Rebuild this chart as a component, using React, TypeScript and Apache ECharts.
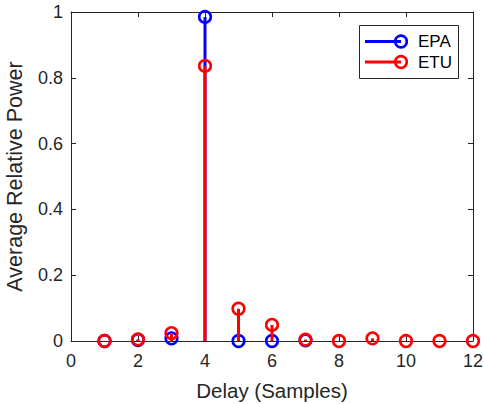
import React, { useEffect, useRef } from "react";
import * as echarts from "echarts";

const delays = [1, 2, 3, 4, 5, 6, 7, 8, 9, 10, 11, 12];
const epaDelays = [1, 2, 3, 4, 5, 6, 7];
const epaPower = [0.0, 0.003, 0.008, 0.985, 0.0, 0.0, 0.002];
const etuPower = [0.0, 0.005, 0.024, 0.836, 0.098, 0.049, 0.004, 0.0, 0.008, 0.0, 0.0, 0.0];
const xTicks = [0, 2, 4, 6, 8, 10, 12];
const yTicks = [0, 0.2, 0.4, 0.6, 0.8, 1];

const BLUE = "#0000ff";
const RED = "#ff0000";
const AX = "#262626";
const FONT = "'Liberation Sans', Arial, Helvetica, sans-serif";

function stemSeries(name: string, xs: number[], ys: number[], color: string) {
  return {
    type: "custom",
    name,
    clip: false,
    data: xs.map((x, i) => [x, ys[i]]),
    renderItem: (params: any, api: any) => {
      const x = api.value(0);
      const y = api.value(1);
      const p = api.coord([x, y]);
      const b = api.coord([x, 0]);
      return {
        type: "group",
        children: [
          {
            type: "line",
            shape: { x1: b[0], y1: b[1], x2: p[0], y2: p[1] },
            style: { stroke: color, lineWidth: 3 },
          },
          {
            type: "circle",
            shape: { cx: p[0], cy: p[1], r: 5.8 },
            style: { fill: "none", stroke: color, lineWidth: 2.6 },
          },
        ],
      };
    },
  };
}

export default function App() {
  const ref = useRef<HTMLDivElement>(null);
  useEffect(() => {
    const chart = echarts.init(ref.current!, null, { renderer: "svg" });
    const axisCommon = {
      type: "value",
      axisLine: { show: true, onZero: false, lineStyle: { color: AX, width: 1 } },
      axisTick: { show: true, inside: true, length: 5, lineStyle: { color: AX } },
      splitLine: { show: false },
    };
    chart.setOption({
      animation: false,
      grid: { left: 71, right: 11, top: 12, bottom: 63, containLabel: false, outerBoundsMode: "none" },
      xAxis: [
        {
          ...axisCommon,
          min: 0,
          max: 12,
          interval: 2,
          position: "bottom",
          axisLabel: {
            color: AX,
            fontSize: 18,
            fontFamily: FONT,
            margin: 11,
            formatter: (v: number) => (xTicks.includes(v) ? String(v) : ""),
          },
          name: "Delay (Samples)",
          nameLocation: "middle",
          nameGap: 39,
          nameTextStyle: { color: AX, fontSize: 20.5, fontFamily: FONT },
        },
        {
          ...axisCommon,
          min: 0,
          max: 12,
          interval: 2,
          position: "top",
          axisLabel: { show: false },
        },
      ],
      yAxis: [
        {
          ...axisCommon,
          min: 0,
          max: 1,
          interval: 0.2,
          position: "left",
          axisLabel: {
            color: AX,
            fontSize: 18,
            fontFamily: FONT,
            margin: 8,
            formatter: (v: number) => {
              const t = yTicks.find((k) => Math.abs(k - v) < 1e-9);
              return t === undefined ? "" : String(t);
            },
          },
          name: "Average Relative Power",
          nameLocation: "middle",
          nameGap: 45,
          nameTextStyle: { color: AX, fontSize: 21.5, fontFamily: FONT },
        },
        {
          ...axisCommon,
          min: 0,
          max: 1,
          interval: 0.2,
          position: "right",
          axisLabel: { show: false },
        },
      ],
      series: [
        stemSeries("EPA", epaDelays, epaPower, BLUE),
        stemSeries("ETU", delays, etuPower, RED),
      ],
      graphic: [
        {
          type: "rect",
          shape: { x: 359.5, y: 25.5, width: 99, height: 53 },
          style: { fill: "#ffffff", stroke: AX, lineWidth: 1 },
          z: 100,
        },
        {
          type: "line",
          shape: { x1: 365, y1: 41.5, x2: 401, y2: 41.5 },
          style: { stroke: BLUE, lineWidth: 3 },
          z: 101,
        },
        {
          type: "circle",
          shape: { cx: 401, cy: 41.5, r: 5.8 },
          style: { fill: "none", stroke: BLUE, lineWidth: 2.6 },
          z: 101,
        },
        {
          type: "text",
          x: 418,
          y: 41.5,
          style: { text: "EPA", fill: "#000000", fontSize: 17, fontFamily: FONT, verticalAlign: "middle" },
          z: 101,
        },
        {
          type: "line",
          shape: { x1: 365, y1: 62, x2: 401, y2: 62 },
          style: { stroke: RED, lineWidth: 3 },
          z: 101,
        },
        {
          type: "circle",
          shape: { cx: 401, cy: 62, r: 5.8 },
          style: { fill: "none", stroke: RED, lineWidth: 2.6 },
          z: 101,
        },
        {
          type: "text",
          x: 418,
          y: 62,
          style: { text: "ETU", fill: "#000000", fontSize: 17, fontFamily: FONT, verticalAlign: "middle" },
          z: 101,
        },
      ],
    });
    return () => chart.dispose();
  }, []);
  return <div ref={ref} style={{ width: 484, height: 404, position: "absolute", left: 0, top: 0, background: "#ffffff" }} />;
}
